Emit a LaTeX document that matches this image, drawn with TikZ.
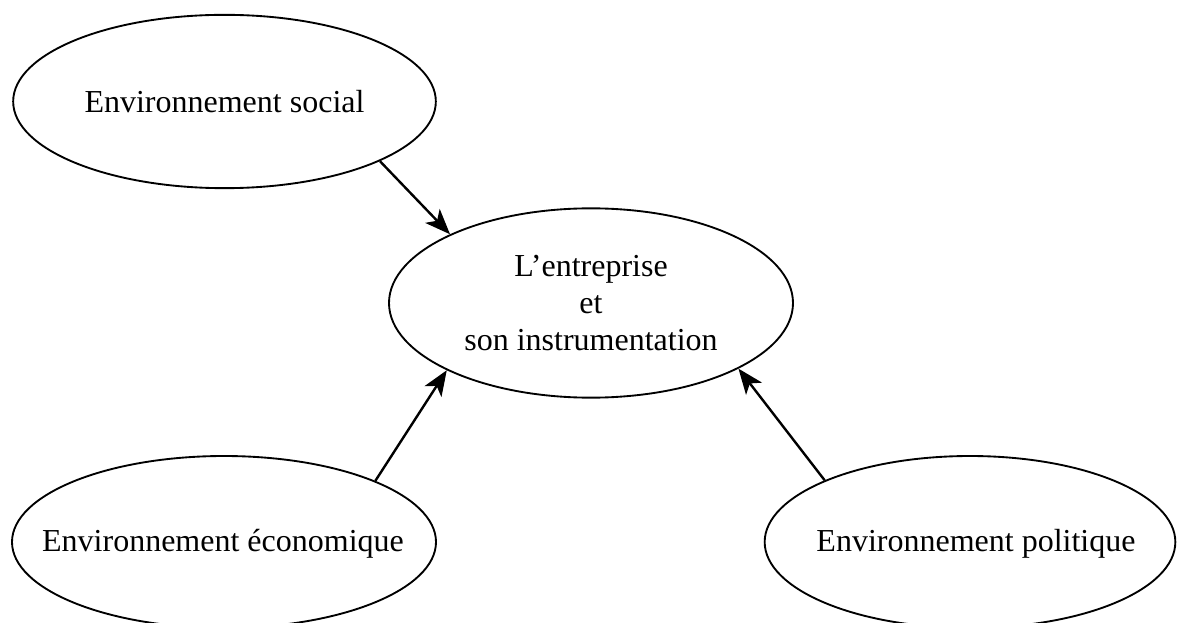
\documentclass[tikz,border=0pt]{standalone}
\usepackage{fontspec}
\setmainfont{Liberation Serif}
\usetikzlibrary{shapes.geometric,arrows.meta}
\begin{document}
\begin{tikzpicture}[x=0.75pt,y=-0.75pt,
  envbox/.style={ellipse, draw, line width=1.4pt, inner sep=0pt},
  envtext/.style={align=center, inner sep=0pt, font=\fontsize{24}{28}\selectfont},
  influence/.style={line width=1.8pt,
    -{Stealth[length=19pt,width=15pt,inset=5pt]}}]
\useasboundingbox (0,0) rectangle (1177,623);
% ellipses, sized independently of their texts
\node[envbox, minimum width=317pt, minimum height=130pt] (soc) at (224.5,101.5) {};
\node[envbox, minimum width=303pt, minimum height=142pt] (ent) at (591,303) {};
\node[envbox, minimum width=318pt, minimum height=129pt] (eco) at (224,542) {};
\node[envbox, minimum width=308pt, minimum height=129pt] (pol) at (970,542) {};
% texts
\node[envtext] (soct) at (soc.center) {Environnement social};
\node[envtext] (entt) at (ent.center) {L’entreprise\\et\\son instrumentation};
\node[envtext] (ecot) at (223,544) {Environnement économique};
\node[envtext] (polt) at (976,544) {Environnement politique};
% influences on the firm
\draw[influence] (soc.-21.3) -- (ent.154.4);
\draw[influence] (eco.22) -- (ent.205.9);
\draw[influence] (pol.157) -- (ent.-24.5);
\end{tikzpicture}
\end{document}
